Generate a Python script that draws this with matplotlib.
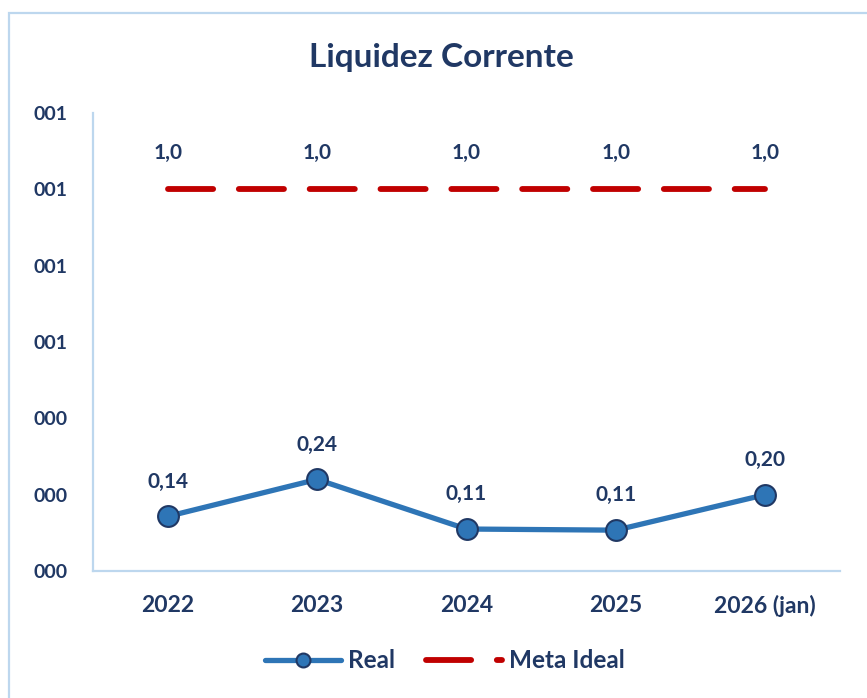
import matplotlib
matplotlib.use("Agg")
import matplotlib.pyplot as plt
from matplotlib.patches import Rectangle
from matplotlib.lines import Line2D

plt.rcParams['font.family'] = ['Lato', 'DejaVu Sans']
plt.rcParams['lines.scale_dashes'] = False

categories = ["2022", "2023", "2024", "2025", "2026 (jan)"]
real = [0.143, 0.24, 0.11, 0.107, 0.20]
real_labels = ["0,14", "0,24", "0,11", "0,11", "0,20"]
meta = [1.0, 1.0, 1.0, 1.0, 1.0]
meta_labels = ["1,0", "1,0", "1,0", "1,0", "1,0"]
yticks = [0.0, 0.2, 0.4, 0.6, 0.8, 1.0, 1.2]
ytick_labels = ["000", "000", "000", "001", "001", "001", "001"]

NAVY = "#203864"
BLUE = "#2E75B6"
RED = "#C00000"
GRID = "#BDD7EE"

fig = plt.figure(figsize=(8.67, 6.98), dpi=100)
ax = fig.add_axes([93/867, 1-571/698, 747/867, 458/698])

x = list(range(len(categories)))
ax.plot(x, meta, color=RED, lw=4.2, linestyle=(0, (32.5, 18.5)),
        dash_capstyle='round', solid_capstyle='round', label="Meta Ideal", zorder=2)
ax.plot(x, real, color=BLUE, lw=3.8, marker='o', markersize=15,
        markerfacecolor=BLUE, markeredgecolor=NAVY, markeredgewidth=1.5,
        solid_capstyle='round', label="Real", zorder=3)

for xi, v, t in zip(x, real, real_labels):
    ax.annotate(t, (xi, v), xytext=(0, 25), textcoords='offset points',
                ha='center', va='center', fontsize=15, fontweight='bold', color=NAVY)
for xi, v, t in zip(x, meta, meta_labels):
    ax.annotate(t, (xi, v), xytext=(0, 26), textcoords='offset points',
                ha='center', va='center', fontsize=15, fontweight='bold', color=NAVY)

ax.set_xlim(-0.5, len(categories) - 0.5)
ax.set_ylim(0, 1.2)
ax.set_xticks(x)
ax.set_xticklabels(categories)
ax.set_yticks(yticks)
ax.set_yticklabels(ytick_labels)
ax.tick_params(axis='both', length=0, colors=NAVY)
ax.tick_params(axis='y', pad=18, labelsize=14)
ax.tick_params(axis='x', pad=17, labelsize=16.5)
for lab in ax.get_xticklabels() + ax.get_yticklabels():
    lab.set_fontweight('bold')
for s in ['top', 'right']:
    ax.spines[s].set_visible(False)
for s in ['left', 'bottom']:
    ax.spines[s].set_color(GRID)
    ax.spines[s].set_linewidth(1.6)

fig.text(441/867, 1-57/698, "Liquidez Corrente", ha='center', va='center',
         fontsize=24, fontweight='bold', color=NAVY)

handles = [
    Line2D([], [], color=BLUE, lw=3.8, marker='o', markersize=10,
           markerfacecolor=BLUE, markeredgecolor=NAVY, markeredgewidth=1.5,
           solid_capstyle='round'),
    Line2D([], [], color=RED, lw=4.2, linestyle=(0, (32.5, 18.5)),
           dash_capstyle='round'),
]
leg = fig.legend(handles, ["Real", "Meta Ideal"], loc='center',
                 bbox_to_anchor=(445/867, 1-661/698), ncol=2, frameon=False,
                 handlelength=3.1, handletextpad=0.3, columnspacing=1.3,
                 prop={'family': ['Lato', 'DejaVu Sans'], 'weight': 'bold', 'size': 17.5})
for t in leg.get_texts():
    t.set_color(NAVY)

fig.add_artist(Rectangle((9/867, -0.1), 1.2, 1.1 - 13/698, transform=fig.transFigure,
                         fill=False, edgecolor=GRID, lw=1.6, clip_on=False))

fig.savefig("out.png", dpi=100)
